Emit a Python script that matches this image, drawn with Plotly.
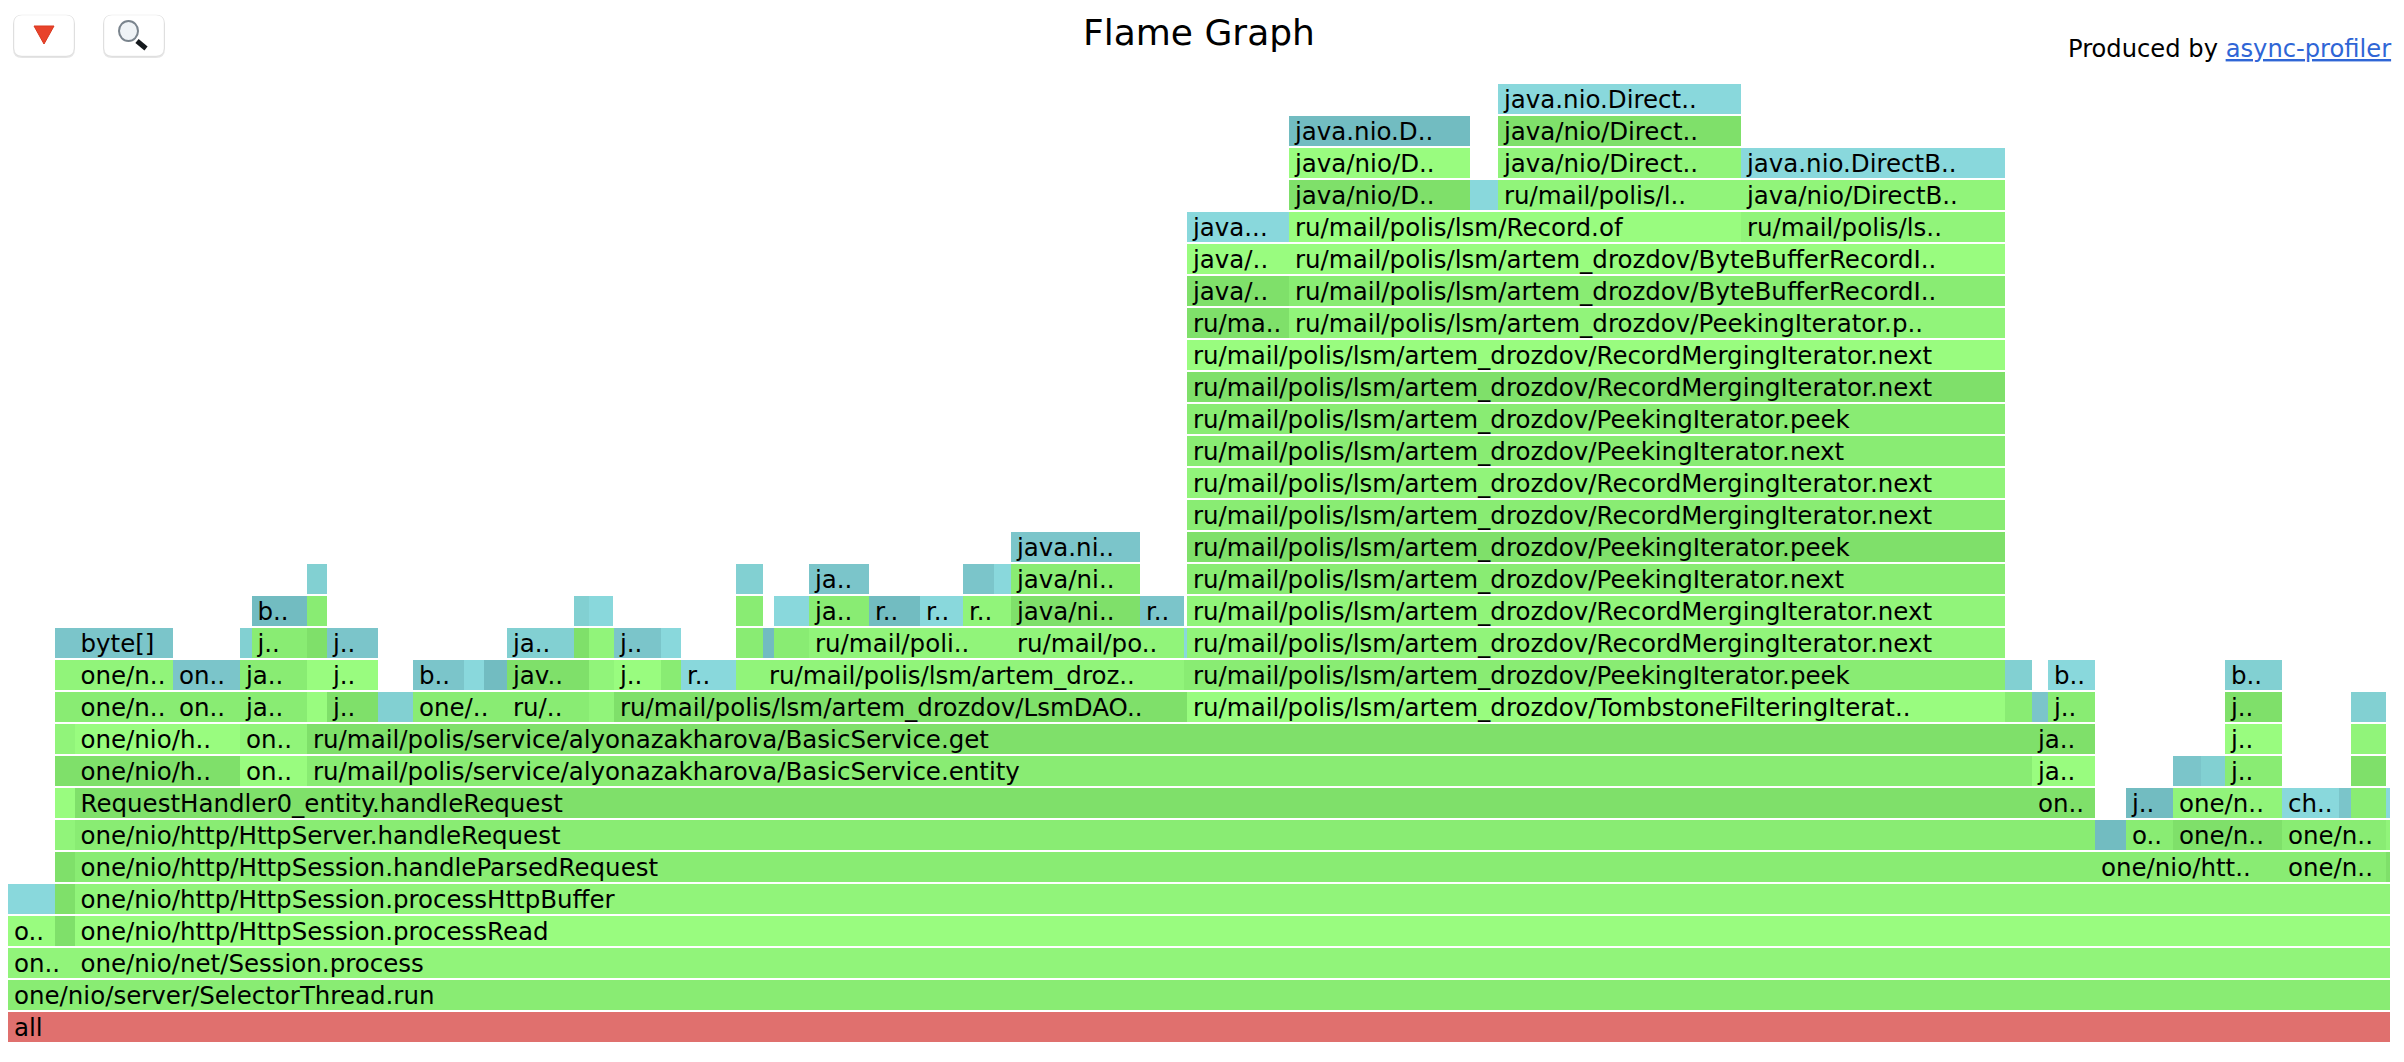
import plotly.graph_objects as go

# ---- data: one entry per frame ----
frame_levels = [
    0, 1, 2, 2, 3, 3, 3,
    4, 4, 4, 4, 4,
    5, 5, 5, 5, 5,
    6, 6, 6, 6, 6, 6, 6,
    7, 7, 7, 7, 7, 7, 7, 7, 7,
    8, 8, 8, 8, 8, 8, 8, 8, 8,
    9, 9, 9, 9, 9, 9, 9,
    10, 10, 10, 10, 10, 10, 10, 10, 10, 10, 10, 10, 10, 10, 10, 10, 10,
    11, 11, 11, 11, 11, 11, 11, 11, 11, 11, 11, 11, 11, 11, 11, 11, 11, 11, 11, 11, 11, 11,
    12, 12, 12, 12, 12, 12, 12, 12, 12, 12, 12, 12, 12, 12, 12, 12, 12, 12,
    13, 13, 13, 13, 13, 13, 13, 13, 13, 13, 13, 13, 13,
    14, 14, 14, 14, 14, 14, 14,
    15, 15, 16, 17, 18, 19, 20, 21,
    22, 22, 23, 23, 24, 24,
    25, 25, 25,
    26, 26, 26, 26,
    27, 27, 27,
    28, 28,
    29,
]
frame_starts = [
    8, 8, 8, 74.5, 8, 55, 74.5,
    8, 36, 55, 74.5, 2386,
    55, 74.5, 2095, 2282, 2386,
    55, 74.5, 2095, 2126, 2173, 2282, 2386,
    55, 74.5, 2032, 2126, 2173, 2282, 2339, 2351, 2386,
    55, 74.5, 240, 307, 2032, 2173, 2201, 2225, 2351,
    55, 74.5, 240, 307, 2032, 2225, 2351,
    55, 74.5, 173, 240, 307, 327, 378, 413, 507, 589, 614, 1187, 2005, 2032, 2048, 2225, 2351,
    55, 74.5, 173, 240, 307, 327, 413, 464, 484, 507, 589, 614, 661, 681, 727.5, 735.5, 763, 1184, 1187, 2005, 2048, 2225,
    55, 74.5, 240, 251.5, 307, 327, 507, 574, 589, 614, 661, 735.5, 763, 774, 809, 1011, 1184, 1187,
    251.5, 307, 574, 589, 735.5, 774, 809, 869, 920, 963, 1011, 1140, 1187,
    307, 735.5, 809, 963, 994, 1011, 1187,
    1011, 1187, 1187, 1187, 1187, 1187, 1187, 1187,
    1187, 1289, 1187, 1289, 1187, 1289,
    1187, 1289, 1741,
    1289, 1470, 1498, 1741,
    1289, 1498, 1741,
    1289, 1498,
    1498,
]
frame_ends = [
    2390, 2390, 74.5, 2390, 55, 74.5, 2390,
    36, 55, 74.5, 2386, 2390,
    74.5, 2095, 2282, 2386, 2390,
    74.5, 2095, 2126, 2173, 2282, 2386, 2390,
    74.5, 2032, 2095, 2173, 2282, 2339, 2351, 2386, 2390,
    74.5, 240, 307, 2032, 2095, 2201, 2225, 2282, 2386,
    74.5, 240, 307, 2032, 2095, 2282, 2386,
    74.5, 173, 240, 307, 327, 378, 413, 507, 589, 614, 1187, 2005, 2032, 2048, 2095, 2282, 2386,
    74.5, 173, 240, 307, 327, 378, 464, 484, 507, 589, 614, 661, 681, 727.5, 735.5, 763, 1184, 1187, 2005, 2032, 2095, 2282,
    74.5, 173, 251.5, 307, 327, 378, 574, 589, 614, 661, 681, 763, 774, 809, 1011, 1184, 1187, 2005,
    307, 327, 589, 613, 763, 809, 869, 920, 963, 1011, 1140, 1184, 2005,
    327, 763, 869, 994, 1011, 1140, 2005,
    1140, 2005, 2005, 2005, 2005, 2005, 2005, 2005,
    1289, 2005, 1289, 2005, 1289, 2005,
    1289, 1741, 2005,
    1470, 1498, 1741, 2005,
    1470, 1741, 2005,
    1470, 1741,
    1741,
]
frame_labels = [
    "all", "one/nio/server/SelectorThread.run", "on..", "one/nio/net/Session.process", "o..", "", "one/nio/http/HttpSession.processRead",
    "", "", "", "one/nio/http/HttpSession.processHttpBuffer", "",
    "", "one/nio/http/HttpSession.handleParsedRequest", "one/nio/htt..", "one/n..", "",
    "", "one/nio/http/HttpServer.handleRequest", "", "o..", "one/n..", "one/n..", "",
    "", "RequestHandler0_entity.handleRequest", "on..", "j..", "one/n..", "ch..", "", "", "",
    "", "one/nio/h..", "on..", "ru/mail/polis/service/alyonazakharova/BasicService.entity", "ja..", "", "", "j..", "",
    "", "one/nio/h..", "on..", "ru/mail/polis/service/alyonazakharova/BasicService.get", "ja..", "j..", "",
    "", "one/n..", "on..", "ja..", "", "j..", "", "one/..", "ru/..", "", "ru/mail/polis/lsm/artem_drozdov/LsmDAO..", "ru/mail/polis/lsm/artem_drozdov/TombstoneFilteringIterat..", "", "", "j..", "j..", "",
    "", "one/n..", "on..", "ja..", "", "j..", "b..", "", "", "jav..", "", "j..", "", "r..", "", "", "ru/mail/polis/lsm/artem_droz..", "", "ru/mail/polis/lsm/artem_drozdov/PeekingIterator.peek", "", "b..", "b..",
    "", "byte[]", "", "j..", "", "j..", "ja..", "", "", "j..", "", "", "", "", "ru/mail/poli..", "ru/mail/po..", "", "ru/mail/polis/lsm/artem_drozdov/RecordMergingIterator.next",
    "b..", "", "", "", "", "", "ja..", "r..", "r..", "r..", "java/ni..", "r..", "ru/mail/polis/lsm/artem_drozdov/RecordMergingIterator.next",
    "", "", "ja..", "", "", "java/ni..", "ru/mail/polis/lsm/artem_drozdov/PeekingIterator.next",
    "java.ni..", "ru/mail/polis/lsm/artem_drozdov/PeekingIterator.peek",
    "ru/mail/polis/lsm/artem_drozdov/RecordMergingIterator.next", "ru/mail/polis/lsm/artem_drozdov/RecordMergingIterator.next",
    "ru/mail/polis/lsm/artem_drozdov/PeekingIterator.next", "ru/mail/polis/lsm/artem_drozdov/PeekingIterator.peek",
    "ru/mail/polis/lsm/artem_drozdov/RecordMergingIterator.next", "ru/mail/polis/lsm/artem_drozdov/RecordMergingIterator.next",
    "ru/ma..", "ru/mail/polis/lsm/artem_drozdov/PeekingIterator.p..",
    "java/..", "ru/mail/polis/lsm/artem_drozdov/ByteBufferRecordI..",
    "java/..", "ru/mail/polis/lsm/artem_drozdov/ByteBufferRecordI..",
    "java...", "ru/mail/polis/lsm/Record.of", "ru/mail/polis/ls..",
    "java/nio/D..", "", "ru/mail/polis/l..", "java/nio/DirectB..",
    "java/nio/D..", "java/nio/Direct..", "java.nio.DirectB..",
    "java.nio.D..", "java/nio/Direct..",
    "java.nio.Direct..",
]
frame_shades = [
    "r", "g2", "g1", "g1", "g0", "g3", "g0",
    "b0", "b0", "g3", "g1", "g1",
    "g3", "g2", "g2", "g2", "g3",
    "g1", "g2", "b3", "g2", "g3", "g2", "g1",
    "g0", "g3", "g3", "b3", "g1", "b0", "b2", "g2", "b0",
    "g3", "g3", "g0", "g2", "g0", "b2", "b1", "g2", "g3",
    "g1", "g0", "g1", "g3", "g3", "g0", "g1",
    "g2", "g2", "g2", "g2", "g0", "g3", "b1", "g2", "g2", "g1", "g3", "g0", "g2", "b2", "g2", "g3", "b1",
    "g1", "g1", "b2", "g2", "g0", "g0", "b2", "b0", "b3", "g3", "g1", "g0", "g2", "b0", "b0", "g1", "g1", "g2", "g2", "b1", "b0", "b1",
    "b2", "b2", "b1", "g2", "g3", "b2", "b1", "g3", "g1", "b2", "b0", "g2", "b3", "g2", "g1", "g1", "b0", "g1",
    "b3", "g2", "b1", "b0", "g2", "b0", "g2", "b3", "b0", "g1", "g3", "b2", "g1",
    "b1", "b1", "b2", "b2", "b0", "g2", "g2",
    "b2", "g3", "g2", "g1", "g2", "g2", "g3", "g0",
    "g3", "g1", "g3", "g2", "g0", "g0",
    "b0", "g0", "g1",
    "g3", "b0", "g1", "g1",
    "g0", "g1", "b0",
    "b3", "g3",
    "b0",
]
title_text = "Flame Graph"
credit_text = "Produced by "
credit_link = "async-profiler"

# ---- style ----
PALETTE = {
    "r": "#e0706e",
    "g0": "#99fc7f", "g1": "#91f47a", "g2": "#89ec73", "g3": "#7fe06a",
    "b0": "#89d8dc", "b1": "#82d0d2", "b2": "#7bc5ca", "b3": "#72bcc1",
}
W, H = 2404, 1062
ROW_PITCH = 32
ROW_HEIGHT = 30
ALL_CENTER = 1027      # pixel centre of level 0
FONT = "DejaVu Sans"
LABEL_SIZE = 24.5
LABEL_PAD = 6
LABEL_DROP = 2.5       # pixels


def px(x):
    return x / W


def py(y):
    return 1 - y / H


def rounded(x0, y0, x1, y1, r):
    X0, X1, Y0, Y1 = px(x0), px(x1), py(y0), py(y1)
    rx, ry = r / W, r / H
    return (f"M {X0+rx} {Y0} L {X1-rx} {Y0} Q {X1} {Y0} {X1} {Y0-ry} "
            f"L {X1} {Y1+ry} Q {X1} {Y1} {X1-rx} {Y1} L {X0+rx} {Y1} "
            f"Q {X0} {Y1} {X0} {Y1+ry} L {X0} {Y0-ry} Q {X0} {Y0} {X0+rx} {Y0} Z")


def poly(points):
    return "M " + " L ".join(f"{px(a)} {py(b)}" for a, b in points) + " Z"


fig = go.Figure()
fig.add_trace(go.Bar(
    orientation="h",
    y=frame_levels,
    base=frame_starts,
    x=[e - s for s, e in zip(frame_starts, frame_ends)],
    width=ROW_HEIGHT / ROW_PITCH,
    marker=dict(color=[PALETTE[s] for s in frame_shades], line=dict(width=0)),
    customdata=frame_labels,
    hovertemplate="%{customdata}<extra></extra>",
    showlegend=False,
))
text_idx = [i for i, t in enumerate(frame_labels) if t]
fig.add_trace(go.Scatter(
    mode="text",
    x=[frame_starts[i] + LABEL_PAD for i in text_idx],
    y=[frame_levels[i] - LABEL_DROP / ROW_PITCH for i in text_idx],
    text=[frame_labels[i] for i in text_idx],
    textposition="middle right",
    textfont=dict(family=FONT, size=LABEL_SIZE, color="#000000"),
    hoverinfo="skip",
    showlegend=False,
))

shapes = []
for x0 in (14, 104):
    shapes.append(dict(type="path", xref="paper", yref="paper",
                       path=rounded(x0 - 1, 15, x0 + 61, 58, 9),
                       fillcolor="rgba(0,0,0,0.10)", line=dict(width=0), layer="below"))
    shapes.append(dict(type="path", xref="paper", yref="paper",
                       path=rounded(x0, 15, x0 + 60, 56, 8),
                       fillcolor="#ffffff", line=dict(color="rgba(0,0,0,0.05)", width=1), layer="below"))
shapes.append(dict(type="path", xref="paper", yref="paper",
                   path=poly([(34, 26), (54, 26), (44, 44)]),
                   fillcolor="#e8432b", line=dict(color="#d9381f", width=1)))
shapes.append(dict(type="line", xref="paper", yref="paper",
                   x0=px(137), y0=py(41), x1=px(146), y1=py(48.5),
                   line=dict(color="#15191d", width=5)))
shapes.append(dict(type="circle", xref="paper", yref="paper",
                   x0=px(119), y0=py(21), x1=px(138), y1=py(41),
                   fillcolor="#eff3f6", line=dict(color="#7a848d", width=2)))

annotations = [
    dict(text=title_text, x=px(1199), y=py(33), xref="paper", yref="paper",
         xanchor="center", yanchor="middle", showarrow=False,
         font=dict(family=FONT, size=36, color="#000000")),
    dict(text=f'{credit_text}<a href="https://github.com/jvm-profiling-tools/async-profiler" '
              f'style="color:#2f66d6"><u>{credit_link}</u></a>',
         x=px(2393), y=py(49), xref="paper", yref="paper",
         xanchor="right", yanchor="middle", showarrow=False,
         font=dict(family=FONT, size=24.2, color="#000000")),
]

fig.update_layout(
    width=W, height=H, autosize=False,
    margin=dict(l=0, r=0, t=0, b=0, pad=0),
    paper_bgcolor="#ffffff", plot_bgcolor="#ffffff",
    barmode="overlay", bargap=0,
    xaxis=dict(range=[0, W], visible=False, fixedrange=True),
    yaxis=dict(range=[(ALL_CENTER - H) / ROW_PITCH, ALL_CENTER / ROW_PITCH],
               visible=False, fixedrange=True),
    shapes=shapes, annotations=annotations,
    showlegend=False,
)

assert len(frame_levels) == len(frame_starts) == len(frame_ends) == len(frame_labels) == len(frame_shades)
fig.write_html("out.html", config=dict(displayModeBar=False),
               post_script="document.body.style.margin='0';document.body.style.overflow='hidden';")
